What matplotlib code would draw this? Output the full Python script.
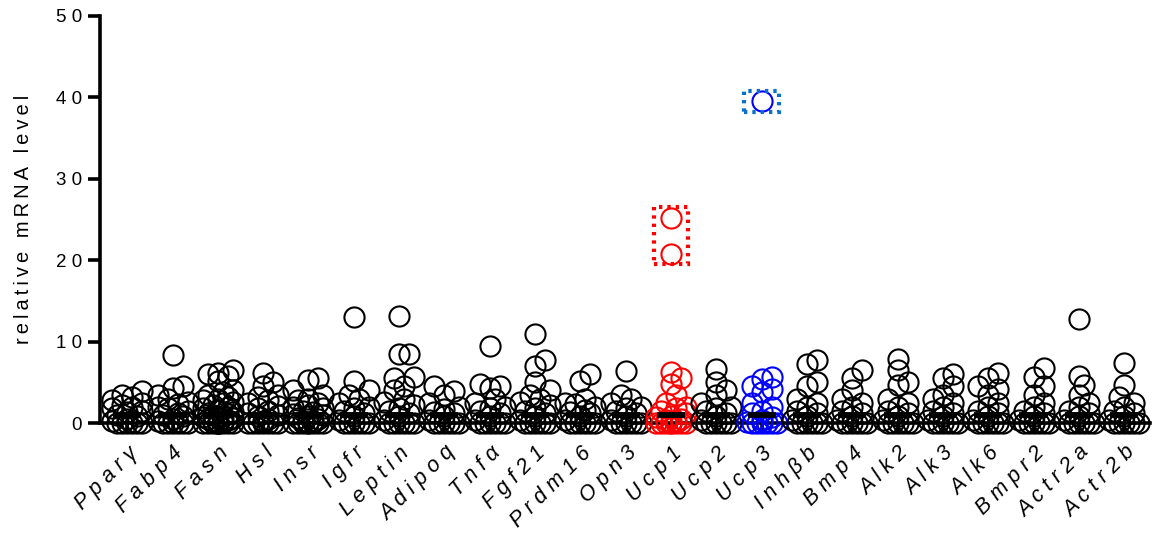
import numpy as np
import matplotlib
matplotlib.use("Agg")
import matplotlib.pyplot as plt
from matplotlib.patches import Rectangle

plt.rcParams['font.family'] = ['Liberation Sans', 'DejaVu Sans']

genes = ["Pparγ", "Fabp4", "Fasn", "Hsl", "Insr", "Igfr", "Leptin", "Adipoq",
         "Tnfα", "Fgf21", "Prdm16", "Opn3", "Ucp1", "Ucp2", "Ucp3", "Inhβb",
         "Bmp4", "Alk2", "Alk3", "Alk6", "Bmpr2", "Actr2a", "Actr2b"]

pparg = [0, 0, 0, 0, 0, 0, 0.2, 0.5, 0.8, 1.0, 1.3, 1.5, 1.8, 2.0, 2.2, 2.5, 2.8, 3.2, 3.5, 3.9]
fabp4 = [0, 0, 0, 0, 0, 0, 0.2, 0.5, 0.8, 1.0, 1.2, 1.5, 1.8, 2.0, 2.3, 2.6, 3.0, 3.5, 4.3, 4.6, 8.3]
fasn = [0, 0, 0, 0, 0, 0, 0, 0, 0, 0, 0.1, 0.2, 0.3, 0.4, 0.5, 0.6, 0.7, 0.8, 0.9, 1.0, 1.1, 1.2, 1.4,
        1.6, 1.8, 2.0, 2.2, 2.4, 2.6, 2.8, 3.0, 3.2, 3.5, 3.8, 4.0, 5.2, 5.8, 6.0, 6.2, 6.5]
hsl = [0, 0, 0, 0, 0, 0, 0, 0.2, 0.5, 0.8, 1.0, 1.2, 1.5, 1.8, 2.1, 2.5, 2.8, 3.2, 3.5, 4.5, 5.0, 6.1]
insr = [0, 0, 0, 0, 0, 0, 0, 0, 0.1, 0.2, 0.3, 0.5, 0.6, 0.8, 1.0, 1.1, 1.3, 1.5, 1.8, 2.0, 2.2, 2.5,
        2.8, 3.0, 3.5, 4.0, 5.3, 5.5]
igfr = [0, 0, 0, 0, 0, 0, 0.4, 0.9, 1.2, 1.5, 1.8, 2.0, 2.5, 3.0, 3.5, 4.0, 5.1, 13.0]
leptin = [0, 0, 0, 0, 0, 0, 0.4, 0.8, 1.2, 1.5, 1.8, 2.2, 2.6, 3.0, 4.0, 4.6, 5.5, 5.6,
          8.5, 8.5, 13.2]
adipoq = [0, 0, 0, 0, 0, 0, 0.4, 0.9, 1.2, 1.4, 1.7, 2.0, 2.5, 3.5, 3.9, 4.5]
tnfa = [0, 0, 0, 0, 0, 0, 0.4, 0.9, 1.2, 1.5, 1.8, 2.0, 2.5, 3.0, 4.3, 4.5, 4.8, 9.4]
fgf21 = [0, 0, 0, 0, 0, 0, 0.4, 0.9, 1.2, 1.5, 1.8, 2.2, 2.6, 3.0, 3.5, 4.0, 5.0,
         7.0, 7.8, 10.9]
prdm16 = [0, 0, 0, 0, 0, 0, 0.4, 0.9, 1.2, 1.4, 1.6, 2.0, 2.3, 2.5, 3.0, 5.2, 6.0]
opn3 = [0, 0, 0, 0, 0, 0, 0.4, 0.9, 1.2, 1.5, 1.8, 2.0, 2.5, 3.0, 3.5, 6.4]
ucp1 = [0, 0, 0, 0, 0, 0, 0, 0, 0.1, 0.2, 0.4, 0.5, 0.7, 0.9, 1.2, 1.5, 1.8, 2.0, 2.5, 3.5,
        4.8, 5.5, 6.3, 20.8, 25.2]
ucp2 = [0, 0, 0, 0, 0, 0, 0.4, 0.9, 1.2, 1.5, 1.8, 2.0, 2.5, 3.5, 4.0, 5.0, 6.6]
ucp3 = [0, 0, 0, 0, 0, 0, 0.1, 0.4, 0.7, 1.2, 1.5, 2.0, 2.5, 3.8, 4.2, 4.5, 5.4, 5.6, 39.5]
inhbb = [0, 0, 0, 0, 0, 0, 0.4, 0.9, 1.2, 1.5, 2.0, 2.5, 3.0, 4.5, 5.0, 7.3, 7.7]
bmp4 = [0, 0, 0, 0, 0, 0, 0.4, 0.9, 1.2, 1.5, 2.0, 2.5, 3.0, 4.0, 5.5, 6.5]
alk2 = [0, 0, 0, 0, 0, 0, 0.4, 0.9, 1.2, 1.5, 2.0, 2.5, 3.0, 4.7, 5.0, 6.5, 7.9]
alk3 = [0, 0, 0, 0, 0, 0, 0.4, 0.9, 1.2, 1.5, 2.0, 2.5, 3.0, 3.5, 4.5, 5.5, 6.0]
alk6 = [0, 0, 0, 0, 0, 0, 0.4, 0.9, 1.2, 1.5, 2.0, 2.5, 3.5, 4.2, 4.5, 5.5, 6.2]
bmpr2 = [0, 0, 0, 0, 0, 0, 0.4, 0.9, 1.2, 1.5, 2.0, 2.5, 3.5, 4.5, 5.7, 6.7]
actr2a = [0, 0, 0, 0, 0, 0, 0.4, 0.9, 1.2, 1.5, 2.0, 2.5, 3.5, 4.7, 5.8, 12.8]
actr2b = [0, 0, 0, 0, 0, 0, 0.4, 0.9, 1.2, 1.5, 2.0, 2.5, 3.2, 4.7, 7.4]

values = [pparg, fabp4, fasn, hsl, insr, igfr, leptin, adipoq, tnfa, fgf21, prdm16, opn3,
          ucp1, ucp2, ucp3, inhbb, bmp4, alk2, alk3, alk6, bmpr2, actr2a, actr2b]
center_line = [1.0] * len(genes)
colors = ["black"] * len(genes)
colors[12] = "#FF0000"
colors[14] = "#0000FF"

# highlighted outliers: (category index, low value, high value, box color)
highlights = [(12, 20.8, 25.2, "#FF0000"), (14, 39.5, 39.5, "#0A70C8")]

def sp(s, sep=" "):
    return sep.join(s)

W, H = 1153, 540
fig = plt.figure(figsize=(W / 100, H / 100), dpi=100)
ax = fig.add_axes([100 / W, 1 - 423 / H, 1050 / W, 407 / H])
ax.set_xlim(-0.6, 22.57)
ax.set_ylim(0, 50)

xpx = 1050 / 23.17
ypx = 407 / 50.0

def swarm(vals, step=5.0, mind=10.0, maxoff=15.0):
    vals = sorted(vals)
    placed = []
    offs = []
    cands = [0.0]
    k = 1
    while k * step <= maxoff + 1e-9:
        cands += [k * step, -k * step]
        k += 1
    for v in vals:
        y = v * ypx
        best, bestd = None, -1
        chosen = None
        for c in cands:
            if placed:
                d = min(np.hypot(c - px, y - py) for px, py in placed)
            else:
                d = 1e9
            if d >= mind:
                chosen = c
                break
            if d > bestd:
                bestd, best = d, c
        if chosen is None:
            chosen = best
        placed.append((chosen, y))
        offs.append(chosen)
    return np.array(vals), np.array(offs) / xpx

for i, vals in enumerate(values):
    v, o = swarm(vals)
    ax.plot(i + o, v, linestyle="none", marker="o", markersize=14.5,
            markerfacecolor="none", markeredgecolor=colors[i], markeredgewidth=1.5,
            clip_on=False, zorder=3)
    ax.plot([i - 0.31, i + 0.31], [center_line[i]] * 2, color="black", lw=4.2,
            solid_capstyle="butt", zorder=4, clip_on=False)

for idx, lo, hi, col in highlights:
    pad_y = 1.3
    half_w = 0.38
    r = Rectangle((idx - half_w, lo - pad_y), 2 * half_w, hi - lo + 2 * pad_y,
                  fill=False, edgecolor=col, lw=3, linestyle=(0, (0.8, 1.2)), zorder=5)
    ax.add_patch(r)

for s in ["top", "right"]:
    ax.spines[s].set_visible(False)
for s in ["left", "bottom"]:
    ax.spines[s].set_linewidth(2.6)
    ax.spines[s].set_zorder(2)

ax.set_yticks([0, 10, 20, 30, 40, 50])
ax.set_yticklabels([sp(str(t)) for t in [0, 10, 20, 30, 40, 50]], fontsize=13.5)
ax.tick_params(axis="y", length=9, width=2.6, pad=4)
ax.set_xticks(range(len(genes)))
ax.set_xticklabels([sp(g) for g in genes], rotation=45, ha="right", va="top",
                   rotation_mode="anchor", fontsize=15.5, style="italic")
ax.tick_params(axis="x", length=7, width=2.6, pad=7)
ax.set_ylabel(sp("relative mRNA level", "\u2009"), fontsize=14.5, labelpad=16)

fig.savefig("out.png", dpi=100)
